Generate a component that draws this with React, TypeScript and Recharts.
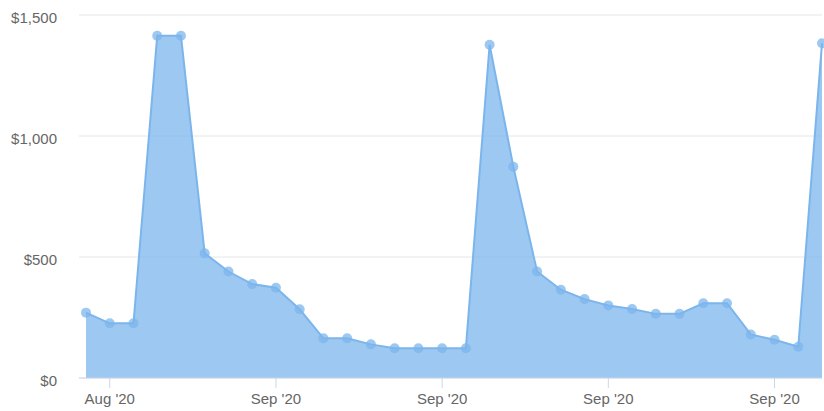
import { AreaChart, Area, XAxis, YAxis, CartesianGrid } from "recharts";

// weekly revenue, one point per period
const values = [
  270, 226, 226, 1414, 1414, 515, 440, 388, 373, 284, 164, 164, 139, 123, 123, 123,
  123, 1377, 873, 440, 365, 326, 300, 285, 265, 265, 309, 309, 180, 158, 129, 1383,
];
const tickIndex = [1, 8, 15, 22, 29];
const tickLabels = ["Aug '20", "Sep '20", "Sep '20", "Sep '20", "Sep '20"];
const yTicks = [0, 500, 1000, 1500];

const data = values.map((v, i) => ({ i, revenue: v }));

const fmtMoney = (v: number) => "$" + v.toLocaleString("en-US");

const YTick = ({ x, y, payload }: any) => (
  <text x={x} y={y + 8} textAnchor="end" fill="#666666" fontSize={15}>
    {fmtMoney(payload.value)}
  </text>
);

const XTick = ({ x, y, payload }: any) => {
  const k = tickIndex.indexOf(payload.value);
  return (
    <text x={x} y={404} textAnchor="middle" fill="#666666" fontSize={15}>
      {k >= 0 ? tickLabels[k] : ""}
    </text>
  );
};

export default function App() {
  return (
    <div
      style={{
        position: "fixed",
        left: 0,
        top: 0,
        width: 824,
        height: 411,
        background: "#fff",
        fontFamily: "'Liberation Sans', Arial, sans-serif",
      }}
    >
      <AreaChart
        width={824}
        height={411}
        data={data}
        margin={{ top: 15, right: 2, left: 0, bottom: 0 }}
      >
        <CartesianGrid vertical={false} stroke="#e6e6e6" />
        <XAxis
          dataKey="i"
          type="number"
          domain={[0, 31]}
          ticks={tickIndex}
          padding={{ left: 7, right: 0 }}
          height={33}
          axisLine={{ stroke: "#ccd6eb" }}
          tickLine={{ stroke: "#ccd6eb" }}
          tickSize={10}
          tick={<XTick />}
        />
        <YAxis
          domain={[0, 1500]}
          ticks={yTicks}
          width={79}
          axisLine={false}
          tickLine={false}
          tickSize={0}
          tickMargin={22}
          tick={<YTick />}
        />
        <Area
          type="linear"
          dataKey="revenue"
          stroke="#7cb5ec"
          strokeWidth={2}
          fill="#7cb5ec"
          fillOpacity={0.75}
          dot={{ r: 5, fill: "#7cb5ec", stroke: "none" }}
          activeDot={false}
          isAnimationActive={false}
        />
      </AreaChart>
    </div>
  );
}
